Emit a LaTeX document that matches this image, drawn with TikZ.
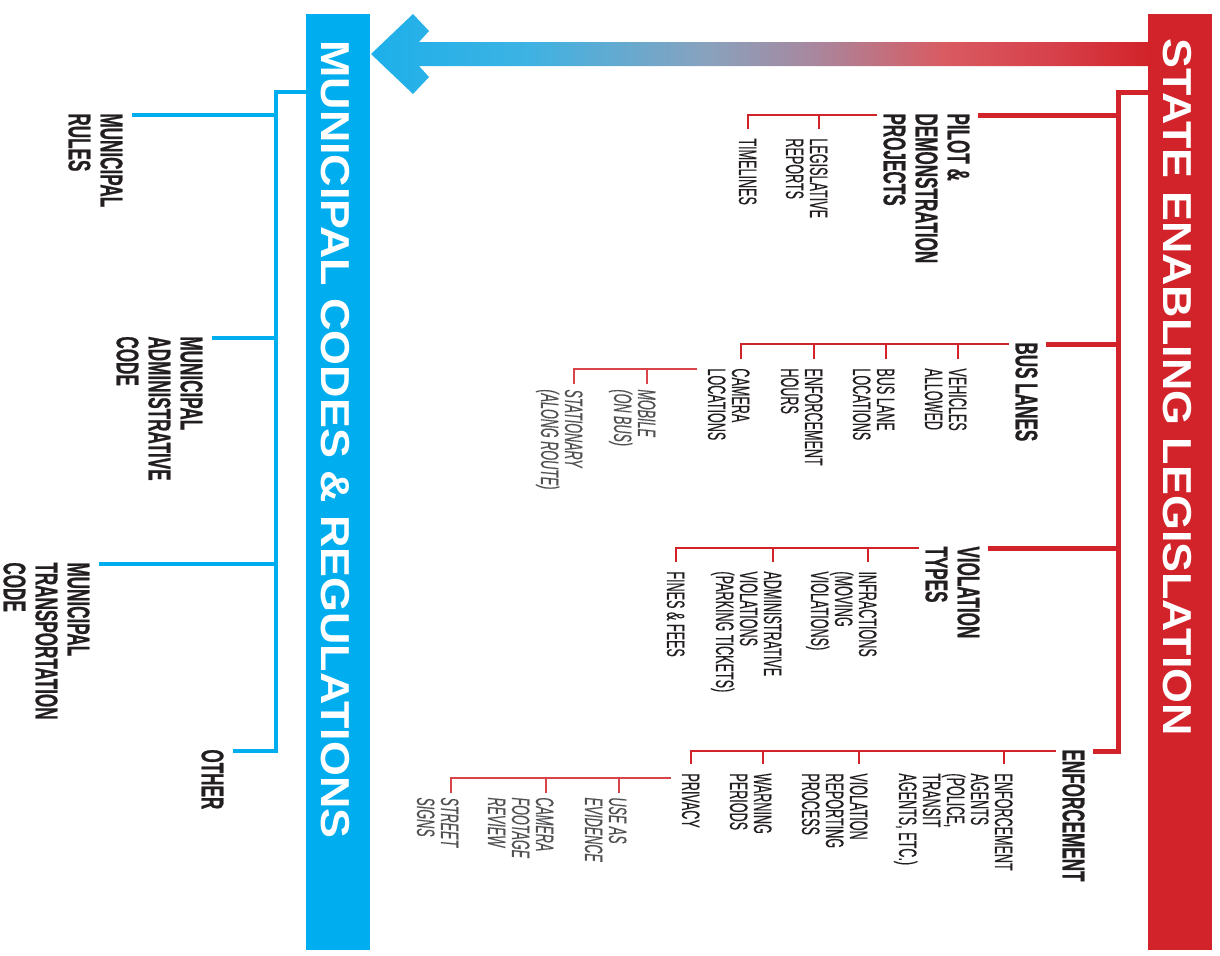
\documentclass[tikz,border=0pt]{standalone}
\usepackage{fontspec}
\setmainfont{Liberation Sans}
\newfontfamily\condfont[FakeStretch=0.5,FakeBold=0.3]{Liberation Sans}
\newfontfamily\headfont[FakeStretch=0.545,FakeBold=0.6]{Liberation Sans}
\newfontfamily\titlefont[FakeStretch=1.11]{Liberation Sans}
\usetikzlibrary{calc}
\definecolor{selred}{HTML}{D2232A}
\definecolor{mcblue}{HTML}{00AEEF}
\definecolor{ink}{HTML}{231F20}
\definecolor{subgray}{HTML}{505153}
\definecolor{arra}{HTML}{1DB0EA}
\definecolor{arrb}{HTML}{3DB2E3}
\definecolor{arrc}{HTML}{88A2BE}
\definecolor{arrd}{HTML}{A8879E}
\definecolor{arre}{HTML}{D95A61}
\definecolor{arrf}{HTML}{D6404A}
\pgfdeclarehorizontalshading{bluetored}{100bp}{color(0bp)=(arra); color(25bp)=(arra); color(35bp)=(arrb); color(46.5bp)=(arrc); color(53.5bp)=(arrd); color(62bp)=(arre); color(69bp)=(arrf); color(75bp)=(selred); color(100bp)=(selred)}
\begin{document}
\begin{tikzpicture}[x=0.5pt,y=-0.5pt,
  lbl/.style={rotate=-90, anchor=north west, inner sep=0pt, align=left, text=ink, font=\condfont\fontsize{12.6}{12}\selectfont},
  sublbl/.style={lbl, text=subgray, font=\condfont\itshape\fontsize{12.6}{12}\selectfont},
  head/.style={lbl, font=\headfont\bfseries\fontsize{15.7}{16}\selectfont},
  title/.style={rotate=-90, anchor=north west, inner sep=0pt, text=white, font=\titlefont\bfseries\fontsize{20.2}{24}\selectfont},
  bar/.style={inner sep=0pt, minimum width=32pt, minimum height=468pt},
  stem/.style={selred, line width=2.5pt},
  twig/.style={selred, line width=1.4pt},
  leaf/.style={selred!85, line width=1pt},
  bluestem/.style={mcblue, line width=2.3pt}]
\useasboundingbox (0,0) rectangle (1220,955);
\node[bar, fill=selred] (selbar) at (1180,482) {};
\node[bar, fill=mcblue] (mcbar) at (338,482) {};
\node[title] (seltitle) at (1192,38) {STATE ENABLING LEGISLATION};
\node[title] (mctitle) at (350,40) {MUNICIPAL CODES \& REGULATIONS};
\shade[shading=bluetored] (371,54) -- (413,14) -- (429,31) -- (419,42) -- (1148,42) -- (1148,66) -- (419,66) -- (429,77) -- (413,94) -- cycle;
\coordinate (seltop) at (1118,92);
\node[head] (pil) at (970,113) {PILOT \&\\DEMONSTRATION\\PROJECTS};
\node[lbl] (leg) at (828,138) {LEGISLATIVE\\REPORTS};
\node[lbl] (tim) at (757,138) {TIMELINES};
\node[head] (bus) at (1038,342) {BUS LANES};
\node[lbl] (veh) at (967,368) {VEHICLES\\ALLOWED};
\node[lbl] (bll) at (895,368) {BUS LANE\\LOCATIONS};
\node[lbl] (enh) at (823,368) {ENFORCEMENT\\HOURS};
\node[lbl] (cam) at (750,368) {CAMERA\\LOCATIONS};
\node[sublbl] (mob) at (656,389) {MOBILE\\(ON BUS)};
\node[sublbl] (sta) at (583,389) {STATIONARY\\(ALONG ROUTE)};
\node[head] (vio) at (980,546) {VIOLATION\\TYPES};
\node[lbl] (inf) at (877,571) {INFRACTIONS\\(MOVING\\VIOLATIONS)};
\node[lbl] (adm) at (782,571) {ADMINISTRATIVE\\VIOLATIONS\\(PARKING TICKETS)};
\node[lbl] (fin) at (685,571) {FINES \& FEES};
\node[head] (enf) at (1085,749) {ENFORCEMENT};
\node[lbl] (age) at (1013,773) {ENFORCEMENT\\AGENTS\\(POLICE,\\TRANSIT\\AGENTS, ETC.)};
\node[lbl] (rep) at (868,773) {VIOLATION\\REPORTING\\PROCESS};
\node[lbl] (war) at (772,773) {WARNING\\PERIODS};
\node[lbl] (pri) at (700,773) {PRIVACY};
\node[sublbl] (evi) at (627,797) {USE AS\\EVIDENCE};
\node[sublbl] (foo) at (554,797) {CAMERA\\FOOTAGE\\REVIEW};
\node[sublbl] (sig) at (459,797) {STREET\\SIGNS};
\draw[stem] (selbar.west |- seltop) -- (seltop) |- ($(enf.north west)+(4pt,-1pt)$);
\foreach \h in {pil,bus,vio,enf}{
  \coordinate (\h-w) at ($(\h.south west)+(-3pt,-1pt)$);
  \draw[stem] ($(\h.north west)+(4pt,-1pt)$) -| (seltop);
}
\foreach \c in {leg,tim} \draw[twig] ($(\c.north west)+(-4.5pt,4.5pt)$) |- (pil-w);
\foreach \c in {veh,bll,enh,cam} \draw[twig] ($(\c.north west)+(-4.5pt,4.5pt)$) |- (bus-w);
\foreach \c in {inf,adm,fin} \draw[twig] ($(\c.north west)+(-4.5pt,4.5pt)$) |- (vio-w);
\foreach \c in {age,rep,war,pri} \draw[twig] ($(\c.north west)+(-4.5pt,4.5pt)$) |- (enf-w);
\coordinate (cam-w) at ($(cam.south west)+(-5pt,-0.5pt)$);
\foreach \c in {mob,sta} \draw[leaf] ($(\c.north west)+(-4.5pt,2.5pt)$) |- (cam-w);
\coordinate (pri-w) at ($(pri.south west)+(-5pt,-2.5pt)$);
\foreach \c in {evi,foo,sig} \draw[leaf] ($(\c.north west)+(-4pt,2pt)$) |- (pri-w);
\coordinate (mctop) at (276,92);
\node[head] (rul) at (123,113) {MUNICIPAL\\RULES};
\node[head] (adc) at (203,336) {MUNICIPAL\\ADMINISTRATIVE\\CODE};
\node[head] (trc) at (90,562) {MUNICIPAL\\TRANSPORTATION\\CODE};
\node[head] (oth) at (224,749) {OTHER};
\draw[bluestem] (mcbar.west |- mctop) -- (mctop) |- ($(oth.north west)+(4.5pt,-1pt)$);
\foreach \c in {rul,adc,trc} \draw[bluestem] ($(\c.north west)+(4.5pt,-1pt)$) -| (mctop);
\end{tikzpicture}
\end{document}
